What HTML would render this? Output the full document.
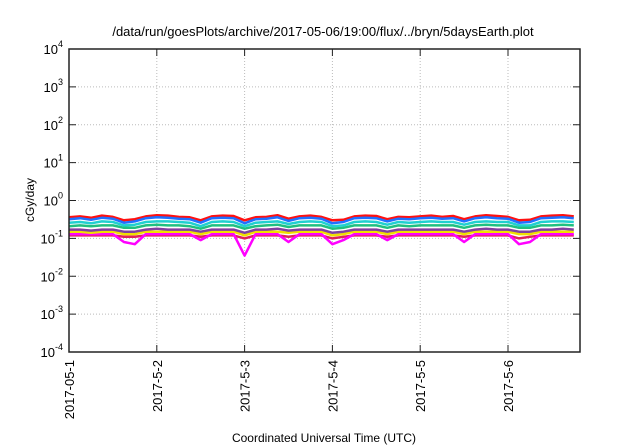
<!DOCTYPE html>
<html><head><meta charset="utf-8"><style>
body{margin:0;background:#fff;}
svg{display:block;font-family:"Liberation Sans",sans-serif;}
</style></head><body>
<svg id="c" width="640" height="448">
<text x="323" y="36" font-size="13" text-anchor="middle">/data/run/goesPlots/archive/2017-05-06/19:00/flux/../bryn/5daysEarth.plot</text>
<text transform="translate(34,200) rotate(-90)" font-size="12" text-anchor="middle">cGy/day</text>
<text x="324" y="442" font-size="12" text-anchor="middle">Coordinated Universal Time (UTC)</text>
<g id="grid"></g><g id="series"></g><g id="axes"></g>
</svg>
<script>
const xTicks=["2017-05-1","2017-5-2","2017-5-3","2017-5-4","2017-5-5","2017-5-6"];
const yExps=[-4,-3,-2,-1,0,1,2,3,4];
const step=0.125;
const red=[0.36,0.38,0.35,0.40,0.37,0.30,0.32,0.38,0.41,0.40,0.37,0.36,0.30,0.38,0.40,0.39,0.30,0.36,0.37,0.41,0.33,0.38,0.40,0.37,0.30,0.31,0.38,0.40,0.39,0.32,0.37,0.36,0.38,0.40,0.37,0.39,0.32,0.38,0.41,0.39,0.37,0.30,0.31,0.38,0.40,0.41,0.38];
const blue=[0.32,0.34,0.31,0.35,0.33,0.26,0.28,0.34,0.36,0.35,0.33,0.32,0.26,0.34,0.35,0.34,0.25,0.32,0.33,0.36,0.29,0.34,0.35,0.33,0.25,0.27,0.34,0.35,0.34,0.28,0.33,0.32,0.34,0.35,0.33,0.34,0.28,0.34,0.36,0.34,0.33,0.26,0.27,0.34,0.35,0.36,0.34];
const cyan=[0.26,0.27,0.25,0.28,0.27,0.22,0.23,0.27,0.28,0.28,0.27,0.26,0.21,0.27,0.28,0.27,0.21,0.26,0.27,0.28,0.24,0.27,0.28,0.27,0.21,0.22,0.27,0.28,0.27,0.23,0.27,0.26,0.27,0.28,0.27,0.27,0.23,0.27,0.28,0.27,0.27,0.22,0.22,0.27,0.28,0.28,0.27];
const green=[0.21,0.22,0.21,0.22,0.22,0.19,0.19,0.22,0.23,0.22,0.22,0.21,0.18,0.22,0.22,0.22,0.18,0.21,0.22,0.23,0.20,0.22,0.22,0.22,0.18,0.19,0.22,0.22,0.22,0.19,0.22,0.21,0.22,0.22,0.22,0.22,0.19,0.22,0.23,0.22,0.22,0.19,0.19,0.22,0.22,0.23,0.22];
const purple=[0.17,0.17,0.16,0.17,0.17,0.15,0.15,0.17,0.18,0.17,0.17,0.17,0.15,0.17,0.17,0.17,0.14,0.17,0.17,0.18,0.16,0.17,0.17,0.17,0.14,0.15,0.17,0.17,0.17,0.15,0.17,0.17,0.17,0.17,0.17,0.17,0.15,0.17,0.18,0.17,0.17,0.15,0.15,0.17,0.17,0.18,0.17];
const yellow=[0.15,0.15,0.14,0.15,0.15,0.13,0.13,0.15,0.15,0.15,0.15,0.15,0.13,0.15,0.15,0.15,0.12,0.15,0.15,0.15,0.14,0.15,0.15,0.15,0.12,0.13,0.15,0.15,0.15,0.13,0.15,0.15,0.15,0.15,0.15,0.15,0.13,0.15,0.15,0.15,0.15,0.13,0.13,0.15,0.15,0.15,0.15];
const magenta=[0.13,0.13,0.13,0.13,0.13,0.08,0.07,0.13,0.13,0.13,0.13,0.13,0.09,0.13,0.13,0.13,0.035,0.13,0.13,0.13,0.08,0.13,0.13,0.13,0.07,0.09,0.13,0.13,0.13,0.09,0.13,0.13,0.13,0.13,0.13,0.13,0.08,0.13,0.13,0.13,0.13,0.07,0.08,0.13,0.13,0.13,0.13];
const crimson=[0.12,0.12,0.12,0.12,0.12,0.11,0.11,0.12,0.12,0.12,0.12,0.12,0.11,0.12,0.12,0.12,0.10,0.12,0.12,0.12,0.11,0.12,0.12,0.12,0.10,0.11,0.12,0.12,0.12,0.11,0.12,0.12,0.12,0.12,0.12,0.12,0.11,0.12,0.12,0.12,0.12,0.10,0.11,0.12,0.12,0.12,0.12];
const L=69,R=580,T=49,B=352,DAY=87.8;
const x=d=>L+d*DAY;
const y=v=>B-(Math.log10(v)+4)*(B-T)/8;
const NS="http://www.w3.org/2000/svg";
function mk(t,p,a){const e=document.createElementNS(NS,t);for(const k in a)e.setAttribute(k,a[k]);p.appendChild(e);return e;}
const g=document.getElementById('grid'),s=document.getElementById('series'),ax=document.getElementById('axes');
yExps.forEach(e=>{const yy=y(Math.pow(10,e));
 if(e>-4&&e<4){const l=mk('line',g,{x1:L,x2:R,y1:yy,y2:yy,stroke:'#bbb','stroke-dasharray':'1,2'});
 
 }
 const tk=mk('path',ax,{d:`M${L} ${yy}h7M${R} ${yy}h-7`,stroke:'#222','stroke-width':1});
 
 
 const t=mk('text',ax,{x:L-6,y:yy+5,'font-size':13,'text-anchor':'end'});
 
 
 t.innerHTML=`10<tspan dy="-7" font-size="9">${e}</tspan>`;});
xTicks.forEach((lab,i)=>{const xx=x(i);
 if(i>0){const l=mk('line',g,{x1:xx,x2:xx,y1:T,y2:B,stroke:'#bbb','stroke-dasharray':'1,2'});
 
 }
 const tk=mk('path',ax,{d:`M${xx} ${B}v-7M${xx} ${T}v7`,stroke:'#222'});
 
 
 const t=mk('text',ax,{transform:`translate(${xx+5},${B+8}) rotate(-90)`,'font-size':13,'text-anchor':'end'});
 
 
 t.textContent=lab;});
const fr=mk('rect',ax,{x:L,y:T,width:R-L,height:B-T,fill:'none',stroke:'#222','stroke-width':1.5});


[[crimson,'#e0205a','series-crimson'],[magenta,'#ff00ff','series-magenta'],[yellow,'#f0e000','series-yellow'],[purple,'#8040a0','series-purple'],[green,'#20c080','series-green'],[cyan,'#20d0d0','series-cyan'],[red,'#ff1010','series-red'],[blue,'#2070ff','series-blue']].forEach(([arr,c,n])=>{
 const d=arr.map((v,i)=>(i?'L':'M')+x(i*step).toFixed(1)+' '+y(v).toFixed(1)).join('');
 const p=mk('path',s,{d:d,fill:'none',stroke:c,'stroke-width':2.5,'stroke-linejoin':'round'});
 
 });
</script>
</body></html>
